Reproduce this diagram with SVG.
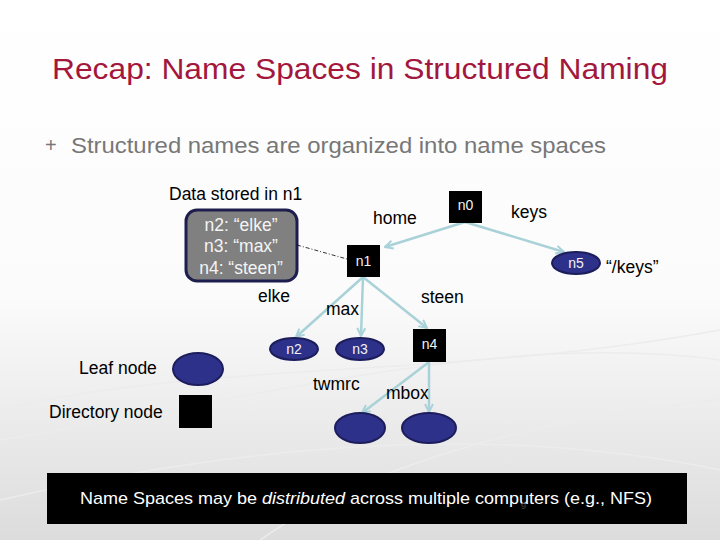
<svg xmlns="http://www.w3.org/2000/svg" width="720" height="540" viewBox="0 0 720 540">
<defs>
<linearGradient id="bg" x1="0" y1="0" x2="0" y2="1">
<stop offset="0" stop-color="#ffffff"/>
<stop offset="0.55" stop-color="#fbfbfb"/>
<stop offset="1" stop-color="#dcdcdc"/>
</linearGradient>
<marker id="ah" viewBox="0 0 10 10" refX="9" refY="5" markerWidth="4" markerHeight="4" orient="auto" markerUnits="strokeWidth">
<path d="M1,1 L9,5 L1,9" fill="none" stroke="#a9d2d8" stroke-width="2"/>
</marker>
<style>
text{font-family:"Liberation Sans",Arial,sans-serif;}
.lbl{font-size:17.5px;fill:#000;}
.dir{fill:#000;}
.leaf{fill:#2e3189;stroke:#1c1d5c;stroke-width:2;}
.nt{font-size:14px;fill:#f2f2f2;text-anchor:middle;}
.edge{stroke:#a9d2d8;stroke-width:2.5;fill:none;marker-end:url(#ah);}
.swoosh{fill:none;stroke:#ececec;stroke-width:1.5;}
</style>
</defs>
<rect width="720" height="540" fill="url(#bg)"/>
<g id="background-curves">
<path class="swoosh" d="M0,410 C200,360 450,380 720,330"/>
<path class="swoosh" d="M0,440 C250,400 500,330 720,360"/>
<path class="swoosh" d="M0,500 C220,450 480,420 720,470"/>
<path class="swoosh" d="M260,540 C360,470 520,420 720,400"/>
</g>
<text x="52" y="79" font-size="30" fill="#a3173c" textLength="616" lengthAdjust="spacingAndGlyphs">Recap: Name Spaces in Structured Naming</text>
<text x="45" y="152" font-size="20" fill="#777">+</text>
<text x="71" y="153" font-size="22" fill="#777" textLength="535" lengthAdjust="spacingAndGlyphs">Structured names are organized into name spaces</text>

<text class="lbl" x="169" y="200">Data stored in n1</text>

<g id="data-box">
<rect x="186" y="210" width="111" height="71" rx="11" fill="#808080" stroke="#1e1e4e" stroke-width="3"/>
<text x="241" y="231" font-size="17.5" fill="#f4f4f4" text-anchor="middle">n2: “elke”</text>
<text x="241" y="252" font-size="17.5" fill="#f4f4f4" text-anchor="middle">n3: “max”</text>
<text x="241" y="274" font-size="17.5" fill="#f4f4f4" text-anchor="middle">n4: “steen”</text>
</g>

<g id="connectors">
<line x1="297" y1="245" x2="347" y2="259" stroke="#000" stroke-width="0.8" stroke-dasharray="4,2,1,2"/>
<line class="edge" x1="465" y1="222" x2="385" y2="247"/>
<line class="edge" x1="465" y1="222" x2="564" y2="252"/>
<line class="edge" x1="363" y1="277" x2="296" y2="337"/>
<line class="edge" x1="363" y1="277" x2="361" y2="336"/>
<line class="edge" x1="363" y1="277" x2="427" y2="328"/>
<line class="edge" x1="429" y1="362" x2="362" y2="413"/>
<line class="edge" x1="429" y1="362" x2="429" y2="412"/>
</g>

<g id="n0"><rect class="dir" x="449" y="191" width="33" height="32"/><text class="nt" x="465.5" y="210">n0</text></g>
<g id="n1"><rect class="dir" x="347" y="245" width="33" height="32"/><text class="nt" x="363.5" y="266">n1</text></g>
<g id="n5"><ellipse class="leaf" cx="576" cy="263" rx="24" ry="11"/><text class="nt" x="576" y="268">n5</text></g>
<g id="n2"><ellipse class="leaf" cx="294" cy="349" rx="24" ry="11"/><text class="nt" x="294" y="354">n2</text></g>
<g id="n3"><ellipse class="leaf" cx="360" cy="349" rx="24" ry="11"/><text class="nt" x="360" y="354">n3</text></g>
<g id="n4"><rect class="dir" x="413" y="329" width="33" height="33"/><text class="nt" x="429.5" y="349">n4</text></g>
<g id="twmrc-leaf"><ellipse class="leaf" cx="360" cy="428" rx="25" ry="15"/></g>
<g id="mbox-leaf"><ellipse class="leaf" cx="429" cy="428" rx="27" ry="15"/></g>

<text class="lbl" x="373" y="224">home</text>
<text class="lbl" x="511" y="218">keys</text>
<text class="lbl" x="606" y="273">“/keys”</text>
<text class="lbl" x="258" y="302">elke</text>
<text class="lbl" x="326" y="315">max</text>
<text class="lbl" x="421" y="303">steen</text>
<text class="lbl" x="313" y="390">twmrc</text>
<text class="lbl" x="386" y="399">mbox</text>

<g id="legend-leaf"><ellipse class="leaf" cx="198" cy="369" rx="25" ry="16"/><text class="lbl" x="79" y="374">Leaf node</text></g>
<g id="legend-dir"><rect class="dir" x="179" y="395" width="33" height="33"/><text class="lbl" x="49" y="418">Directory node</text></g>

<g id="footer">
<rect x="47" y="473" width="640" height="51" fill="#000"/>
<text x="80" y="504" font-size="17" fill="#fff" textLength="572" lengthAdjust="spacingAndGlyphs">Name Spaces may be <tspan font-style="italic">distributed</tspan> across multiple computers (e.g., NFS)</text>
<text x="521" y="509" font-size="9" fill="#444">9</text>
</g>
</svg>
